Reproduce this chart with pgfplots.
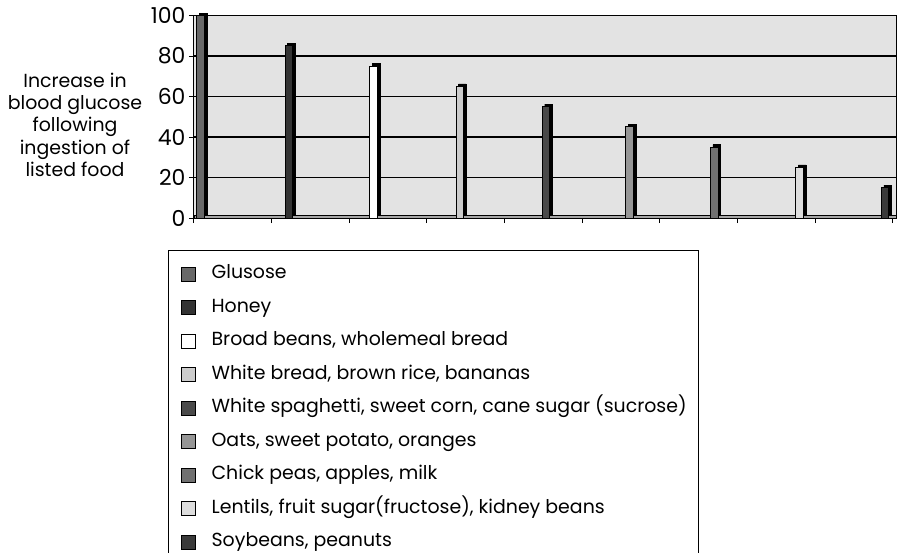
\documentclass[border=0pt]{standalone}
\usepackage{pgfplots}
\pgfplotsset{compat=1.18}
\usepackage{fontspec}
\setmainfont{Poppins}
\definecolor{cA}{HTML}{686868}
\definecolor{cB}{HTML}{333333}
\definecolor{cC}{HTML}{FFFFFF}
\definecolor{cD}{HTML}{CCCCCC}
\definecolor{cE}{HTML}{4A4A4A}
\definecolor{cF}{HTML}{969696}
\definecolor{cG}{HTML}{707070}
\definecolor{cH}{HTML}{DDDDDD}
\definecolor{cI}{HTML}{3A3A3A}
\definecolor{plotbg}{HTML}{E3E3E3}
\begin{document}
\begin{tikzpicture}
\clip (-194bp,-335bp) rectangle (704bp,218bp);
\useasboundingbox (-194bp,-335bp) rectangle (704bp,218bp);
\begin{axis}[
  scale only axis,
  width=702bp, height=202.5bp,
  xmin=0, xmax=9.04, ymin=0, ymax=100,
  clip=false,
  axis background/.style={fill=plotbg},
  axis line style={black, line width=1bp},
  xtick={0,1,...,9}, xticklabels={},
  ytick={0,20,...,100},
  xtick pos=lower, ytick pos=left,
  tick align=outside, major tick length=5bp,
  tick style={black, line width=1bp},
  ymajorgrids, grid style={black, line width=1.1bp},
  /pgf/number format/assume math mode=true,
  tick label style={font=\fontsize{22}{24}\selectfont},
  yticklabel style={xshift=0bp},
  ylabel={Increase in\\blood glucose\\following\\ingestion of\\listed food},
  ylabel style={at={(axis description cs:-0.1695,0.46)}, rotate=-90, anchor=center, align=center, font=\fontsize{19}{22.5}\selectfont},
  legend cell align=left,
  legend image code/.code={\draw[#1, draw=black, line width=1.2bp] (0bp,-6.7bp) rectangle (14bp,7.3bp); \path (30bp,0bp);},
  legend style={at={(-0.037,-0.158)}, anchor=north west, draw=black, line width=1bp,
    font=\fontsize{19}{22}\selectfont, inner xsep=12bp, inner ysep=16bp,
    row sep=17.5bp, column sep=0bp,
    nodes={inner sep=0pt, text height=12bp, text depth=4bp}},
]
\fill[gray!70, draw=black, line width=0.8bp] (axis cs:0,0) rectangle (axis cs:9.04,1.5);
% 3D side/top shadows
\addplot[ybar, bar width=7.6bp, bar shift=2.5bp, yshift=2.5bp, fill=black, draw=black, forget plot] coordinates {(0.085,100) (1.221,85) (2.315,75) (3.423,65) (4.533,55) (5.61,45) (6.70,35) (7.80,25) (8.90,15)};
\addplot[ybar, bar width=7.6bp, bar shift=0bp, fill=cA, draw=black, line width=1bp] coordinates {(0.085,100)};
\addplot[ybar, bar width=7.6bp, bar shift=0bp, fill=cB, draw=black, line width=1bp] coordinates {(1.221,85)};
\addplot[ybar, bar width=7.6bp, bar shift=0bp, fill=cC, draw=black, line width=1bp] coordinates {(2.315,75)};
\addplot[ybar, bar width=7.6bp, bar shift=0bp, fill=cD, draw=black, line width=1bp] coordinates {(3.423,65)};
\addplot[ybar, bar width=7.6bp, bar shift=0bp, fill=cE, draw=black, line width=1bp] coordinates {(4.533,55)};
\addplot[ybar, bar width=7.6bp, bar shift=0bp, fill=cF, draw=black, line width=1bp] coordinates {(5.61,45)};
\addplot[ybar, bar width=7.6bp, bar shift=0bp, fill=cG, draw=black, line width=1bp] coordinates {(6.70,35)};
\addplot[ybar, bar width=7.6bp, bar shift=0bp, fill=cH, draw=black, line width=1bp] coordinates {(7.80,25)};
\addplot[ybar, bar width=7.6bp, bar shift=0bp, fill=cI, draw=black, line width=1bp] coordinates {(8.90,15)};
\legend{Glusose, Honey, {Broad beans, wholemeal bread}, {White bread, brown rice, bananas}, {White spaghetti, sweet corn, cane sugar (sucrose)}, {Oats, sweet potato, oranges}, {Chick peas, apples, milk}, {Lentils, fruit sugar(fructose), kidney beans}, {Soybeans, peanuts}}
\end{axis}
\end{tikzpicture}
\end{document}
